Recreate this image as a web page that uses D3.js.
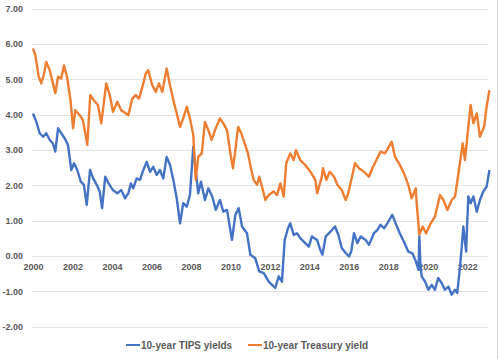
<!DOCTYPE html>
<html>
<head>
<meta charset="utf-8">
<script src="https://cdn.jsdelivr.net/npm/d3@7"></script>
<style>
  html, body { margin: 0; padding: 0; background: #fff; }
  svg { display: block; }
  text { font-family: "Liberation Sans", Arial, sans-serif; font-weight: bold; fill: #595959; }
</style>
</head>
<body>
<svg id="chart" width="500" height="359"></svg>
<script>
// ---- data (decimal year, yield %) ----
const seriesNames = ["10-year TIPS yields", "10-year Treasury yield"];
const seriesColors = ["#4472C4", "#ED7D31"];
const yTicks = [-2, -1, 0, 1, 2, 3, 4, 5, 6, 7];
const xTicks = [2000, 2002, 2004, 2006, 2008, 2010, 2012, 2014, 2016, 2018, 2020, 2022];

const tipsYield = [
  [2000.00,4.03],[2000.17,3.79],[2000.34,3.47],[2000.51,3.37],[2000.67,3.47],[2000.85,3.28],
  [2001.01,3.18],[2001.13,2.95],[2001.27,3.61],[2001.43,3.47],[2001.61,3.32],[2001.77,3.14],
  [2001.94,2.43],[2002.08,2.62],[2002.24,2.43],[2002.42,2.10],[2002.58,2.01],[2002.72,1.44],
  [2002.89,2.43],[2003.05,2.19],[2003.23,2.01],[2003.38,1.82],[2003.50,1.35],[2003.66,2.24],
  [2003.83,2.05],[2004.05,1.86],[2004.27,1.77],[2004.47,1.86],[2004.66,1.63],[2004.83,1.77],
  [2004.96,2.05],[2005.08,1.91],[2005.25,2.19],[2005.42,2.15],[2005.59,2.43],[2005.76,2.66],
  [2005.93,2.38],[2006.09,2.52],[2006.27,2.29],[2006.43,2.43],[2006.60,2.19],[2006.77,2.80],
  [2006.94,2.57],[2007.11,2.15],[2007.28,1.63],[2007.45,0.92],[2007.61,1.49],[2007.79,1.39],
  [2007.95,1.72],[2008.12,3.09],[2008.24,2.43],[2008.37,1.77],[2008.51,2.10],[2008.71,1.58],
  [2008.88,1.91],[2009.08,1.68],[2009.26,1.30],[2009.47,1.58],[2009.64,1.25],[2009.83,1.30],
  [2010.08,0.45],[2010.25,1.16],[2010.42,1.35],[2010.59,0.83],[2010.84,0.64],[2011.01,0.03],
  [2011.26,-0.07],[2011.46,-0.44],[2011.69,-0.49],[2011.94,-0.73],[2012.11,-0.82],[2012.27,-0.91],
  [2012.45,-0.58],[2012.61,-0.73],[2012.75,0.45],[2012.92,0.78],[2013.03,0.92],[2013.21,0.59],
  [2013.37,0.64],[2013.54,0.50],[2013.79,0.36],[2013.97,0.26],[2014.13,0.55],[2014.39,0.45],
  [2014.55,0.17],[2014.66,0.03],[2014.83,0.55],[2015.08,0.69],[2015.30,0.83],[2015.47,0.59],
  [2015.64,0.22],[2015.84,0.08],[2016.01,-0.02],[2016.12,0.12],[2016.26,0.64],[2016.43,0.36],
  [2016.60,0.55],[2016.85,0.45],[2017.02,0.31],[2017.27,0.64],[2017.44,0.73],[2017.61,0.88],
  [2017.78,0.78],[2017.95,0.92],[2018.20,1.16],[2018.37,0.92],[2018.58,0.64],[2018.79,0.40],
  [2019.01,0.12],[2019.21,0.08],[2019.39,-0.15],[2019.53,-0.40],[2019.57,0.55],[2019.63,-0.30],
  [2019.69,-0.58],[2019.86,-0.73],[2020.03,-0.96],[2020.20,-0.82],[2020.36,-0.96],[2020.53,-0.63],
  [2020.70,-0.77],[2020.87,-0.96],[2021.04,-0.87],[2021.21,-1.10],[2021.38,-0.96],[2021.49,-1.05],
  [2021.60,-0.49],[2021.72,0.26],[2021.80,0.83],[2021.94,0.12],[2022.05,1.68],[2022.17,1.49],
  [2022.31,1.68],[2022.48,1.25],[2022.64,1.58],[2022.81,1.82],[2022.98,1.96],[2023.12,2.43]
];

const treasuryYield = [
  [2000.00,5.87],[2000.12,5.68],[2000.29,5.07],[2000.42,4.88],[2000.56,5.16],[2000.67,5.49],
  [2000.85,5.25],[2001.01,4.88],[2001.13,4.60],[2001.27,5.07],[2001.43,5.02],[2001.57,5.39],
  [2001.74,5.02],[2001.91,4.36],[2002.03,3.61],[2002.14,4.12],[2002.37,3.98],[2002.53,3.84],
  [2002.65,3.47],[2002.75,3.14],[2002.90,4.55],[2003.07,4.41],[2003.29,4.27],[2003.46,3.75],
  [2003.71,4.88],[2003.89,4.55],[2004.05,4.08],[2004.27,4.36],[2004.47,4.12],[2004.66,4.05],
  [2004.83,3.98],[2005.03,4.45],[2005.20,4.55],[2005.37,4.45],[2005.54,4.78],[2005.71,5.16],
  [2005.84,5.25],[2006.04,4.83],[2006.22,4.64],[2006.38,4.88],[2006.55,4.64],[2006.77,5.30],
  [2006.94,4.83],[2007.11,4.41],[2007.28,4.03],[2007.45,3.65],[2007.61,3.89],[2007.79,4.22],
  [2007.95,3.89],[2008.12,3.42],[2008.24,2.15],[2008.37,2.80],[2008.55,2.90],[2008.71,3.79],
  [2008.88,3.56],[2009.05,3.28],[2009.22,3.56],[2009.47,3.89],[2009.64,3.75],[2009.83,3.56],
  [2010.00,2.90],[2010.13,2.48],[2010.25,2.99],[2010.39,3.65],[2010.55,3.47],[2010.72,3.18],
  [2010.89,2.90],[2011.06,2.43],[2011.18,2.15],[2011.35,2.01],[2011.46,2.24],[2011.60,1.96],
  [2011.77,1.58],[2011.94,1.72],[2012.19,1.82],[2012.36,1.72],[2012.53,2.05],[2012.70,1.68],
  [2012.83,2.62],[2013.03,2.90],[2013.21,2.71],[2013.32,2.99],[2013.54,2.71],[2013.79,2.57],
  [2014.05,2.38],[2014.30,2.15],[2014.40,1.77],[2014.63,2.24],[2014.69,2.48],[2014.86,2.15],
  [2015.03,2.38],[2015.25,2.24],[2015.42,2.01],[2015.64,1.86],[2015.84,1.58],[2015.97,1.77],
  [2016.18,2.29],[2016.31,2.62],[2016.51,2.48],[2016.77,2.38],[2017.02,2.24],[2017.19,2.48],
  [2017.44,2.76],[2017.61,2.95],[2017.83,2.90],[2018.03,3.09],[2018.17,3.23],[2018.34,2.80],
  [2018.54,2.62],[2018.79,2.34],[2019.01,2.01],[2019.18,1.63],[2019.39,1.91],[2019.44,1.45],
  [2019.57,0.60],[2019.74,0.83],[2019.91,0.64],[2020.11,0.88],[2020.36,1.11],[2020.62,1.72],
  [2020.79,1.58],[2020.99,1.30],[2021.21,1.58],[2021.38,1.68],[2021.60,2.52],[2021.77,3.18],
  [2021.88,2.71],[2022.00,3.37],[2022.17,4.27],[2022.31,3.75],[2022.48,4.03],[2022.64,3.37],
  [2022.85,3.65],[2022.98,4.22],[2023.12,4.69]
];

const allSeries = [tipsYield, treasuryYield];

// ---- layout ----
const svg = d3.select("#chart");
const plotLeft = 32, plotRight = 488;
const x = d3.scaleLinear().domain([2000, 2022]).range([33, 467.3]);
const y = d3.scaleLinear().domain([-2, 7]).range([326.5, 8.5]);

// gridlines + y labels
const yAxis = d3.axisLeft(y)
  .tickValues(yTicks)
  .tickSize(-(plotRight - plotLeft))
  .tickPadding(9)
  .tickFormat(d => d.toFixed(2));
const gy = svg.append("g").attr("transform", `translate(${plotLeft},0)`).call(yAxis);
gy.select(".domain").remove();
gy.selectAll(".tick line").attr("stroke", "#E3E3E3").attr("stroke-width", 1).attr("shape-rendering", "crispEdges");
gy.selectAll(".tick text").style("font-size", "9px").style("font-family", "'Liberation Sans', Arial, sans-serif")
  .style("font-weight", "bold").attr("fill", "#595959");

// x axis labels just under the zero line
const xAxis = d3.axisBottom(x).tickValues(xTicks).tickSize(0).tickPadding(8).tickFormat(d3.format("d"));
const gx = svg.append("g").attr("transform", `translate(0,${y(0)})`).call(xAxis);
gx.select(".domain").remove();
gx.selectAll(".tick text").style("font-size", "9px").style("font-family", "'Liberation Sans', Arial, sans-serif")
  .style("font-weight", "bold").attr("fill", "#595959");

// lines
const line = d3.line().x(d => x(d[0])).y(d => y(d[1]));
allSeries.forEach((s, i) => {
  svg.append("path")
    .datum(s)
    .attr("fill", "none")
    .attr("stroke", seriesColors[i])
    .attr("stroke-width", 2.4)
    .attr("stroke-linejoin", "round")
    .attr("d", line);
});

// legend
const legendY = 345;
const legendX = [126, 248];
seriesNames.forEach((name, i) => {
  const g = svg.append("g").attr("transform", `translate(${legendX[i]},${legendY})`);
  g.append("line").attr("x1", 0).attr("x2", 14).attr("y1", 0).attr("y2", 0)
    .attr("stroke", seriesColors[i]).attr("stroke-width", 2);
  g.append("text").attr("x", 15).attr("y", 0).attr("dy", "0.35em")
    .style("font-size", "10px").text(name);
});

// right border of chart area
svg.append("line").attr("x1", 497.5).attr("x2", 497.5).attr("y1", 0).attr("y2", 359)
  .attr("stroke", "#D9D9D9").attr("stroke-width", 1);
</script>
</body>
</html>
